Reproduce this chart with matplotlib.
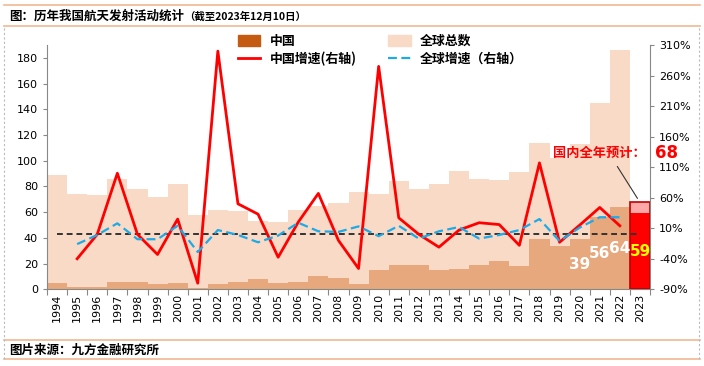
import matplotlib
matplotlib.use('Agg')
import matplotlib.pyplot as plt
import matplotlib.patches as mpatches
from matplotlib.lines import Line2D
import numpy as np

plt.rcParams['font.family'] = ['Noto Sans CJK SC', 'DejaVu Sans']

# ---- data ----
years = [str(y) for y in range(1994, 2024)]
global_total = [89, 74, 73, 86, 78, 72, 82, 58, 62, 61, 53, 52, 62, 65, 67,
                76, 74, 84, 78, 82, 92, 86, 85, 91, 114, 102, 113, 145, 186]
china_total = [5, 2, 2, 6, 6, 4, 5, 1, 4, 6, 8, 5, 6, 10, 9,
               4, 15, 19, 19, 15, 16, 19, 22, 18, 39, 34, 39, 56, 64]
china_2023 = 59
china_2023_est = 68
china_growth = [-40, 0, 100, 0, -33, 25, -80, 300, 50, 33, -37.5, 20, 67, -10,
                -56, 275, 27, 0, -21, 7, 19, 16, -18, 117, -13, 15, 44, 14]
global_growth = [-16, -1, 18, -8, -8, 14, -29, 7, -1, -13, -2, 19, 5, 4,
                 13, -3, 14, -7, 5, 12, -7, -1, 7, 25, -11, 11, 28, 28]
labeled_years = ['2020', '2021', '2022']
labeled_vals = [39, 56, 64]

W, H = 704, 366
fig = plt.figure(figsize=(W / 100, H / 100), dpi=100)
fig.patch.set_facecolor('white')

C_GLOBAL = '#F8DAC6'
C_CHINA = '#E6A87C'
C_CHINA_LEG = '#C55A11'
C_BORDER = '#F0B894'

ax = fig.add_axes([47 / W, 1 - 289.3 / H, (650 - 47) / W, (289.3 - 45) / H])
ax2 = ax.twinx()
ax.set_zorder(1)
ax2.set_zorder(2)
ax.patch.set_visible(False)

x = np.arange(len(years))
xg = x[:len(global_total)]
ax.bar(xg, global_total, width=1.0, color=C_GLOBAL, linewidth=0, zorder=1)
ax.bar(xg, china_total, width=1.0, color=C_CHINA, linewidth=0, zorder=2)

# 2023 bar: actual (red) + estimate (pink)
x23 = years.index('2023')
ax.bar(x23, china_2023_est, width=1.0, color='#FFA8A8', linewidth=0, zorder=3)
ax.bar(x23, china_2023, width=1.0, color='#FF0000', linewidth=0, zorder=4)
ax.bar(x23, china_2023_est, width=1.0, color='none', edgecolor='#C00000',
       linewidth=1.2, zorder=5)

ax.set_xlim(-0.5, len(years) - 0.5)
ax.set_ylim(0, 190)
ax.set_yticks(range(0, 181, 20))

# growth lines on the right axis
ax2.plot(x[1:1 + len(china_growth)], china_growth, color='#FF0000', lw=2, zorder=3)
ax2.plot(x[1:1 + len(global_growth)], global_growth, color='#1EAAE6', lw=1.6,
         dashes=(4, 2), zorder=3)
ax2.plot([0, x23], [0, 0], color='#333333', lw=1.4, dashes=(3, 2), zorder=2)
ax2.set_ylim(-90, 310)
ax2.set_yticks(range(-90, 311, 50))
ax2.set_yticklabels([f'{v}%' for v in range(-90, 311, 50)])

# value labels (drawn on the top axes so the lines stay underneath)
for yr, v in zip(labeled_years, labeled_vals):
    ax2.text(years.index(yr), -90 + v / 2 * 400 / 190, str(v), ha='center', va='center',
             color='white', fontsize=11, fontweight='bold', family='DejaVu Sans', zorder=6)
ax2.text(x23, -90 + china_2023 / 2 * 400 / 190, str(china_2023), ha='center', va='center',
         color='#FFFF00', fontsize=11, fontweight='bold', family='DejaVu Sans', zorder=6)

# annotation for 2023 estimate
ax2.annotate('', xy=(x23 - 0.05, 55), xytext=(x23 - 1.2, 115),
             arrowprops=dict(arrowstyle='-', color='#333333', lw=0.8), zorder=6)
ax2.text(x23 + 0.3, 133, '国内全年预计：', ha='right', va='center',
         color='#FF0000', fontsize=9.5, fontweight='bold', zorder=6)
ax2.text(x23 + 1.3, 133, str(china_2023_est), ha='center', va='center',
         color='#FF0000', fontsize=12, fontweight='bold', family='DejaVu Sans',
         zorder=6, clip_on=False)

# axis styling
for a in (ax, ax2):
    a.spines['top'].set_visible(False)
    for s in ('left', 'right', 'bottom'):
        a.spines[s].set_color('#888888')
        a.spines[s].set_linewidth(0.8)
ax.spines['right'].set_visible(False)
ax2.spines['left'].set_visible(False)
ax2.spines['bottom'].set_visible(False)

ax.set_xticks(np.arange(-0.5, len(years), 1.0))
ax.set_xticklabels([])
ax.set_xticks(x, minor=True)
ax.set_xticklabels(years, minor=True, rotation=90, fontsize=8, family='DejaVu Sans')
ax.tick_params(axis='x', which='major', length=4, color='#888888', direction='out')
ax.tick_params(axis='x', which='minor', length=0, pad=3)
ax.tick_params(axis='y', length=3, color='#888888', labelsize=8)
ax2.tick_params(axis='y', length=3, color='#888888', labelsize=8)
for lab in ax.get_yticklabels() + ax2.get_yticklabels():
    lab.set_family('DejaVu Sans')

# legend
handles = [mpatches.Patch(color=C_CHINA_LEG, label='中国'),
           Line2D([], [], color='#FF0000', lw=2, label='中国增速(右轴)'),
           mpatches.Patch(color=C_GLOBAL, label='全球总数'),
           Line2D([], [], color='#1EAAE6', lw=1.6, dashes=(4, 2), label='全球增速（右轴）')]
leg = fig.legend(handles=handles, ncol=2, loc='upper left',
                 bbox_to_anchor=(226 / W, 1 - 22 / H),
                 frameon=False, fontsize=9.3, handlelength=1.75, handleheight=0.9,
                 columnspacing=2.4, labelspacing=0.3, handletextpad=0.75)
for t in leg.get_texts():
    t.set_fontweight('bold')

# frame lines and titles
def hline(y, color=C_BORDER, lw=1.2, ls='-'):
    fig.add_artist(Line2D([4 / W, 700 / W], [1 - y / H, 1 - y / H], color=color,
                          lw=lw, ls=ls, transform=fig.transFigure))

hline(4.5)
hline(26)
hline(340)
hline(359)
for xv in (4, 699):
    fig.add_artist(Line2D([xv / W, xv / W], [1 - 359 / H, 1 - 26 / H], color='#BBBBBB',
                          lw=0.8, ls=(0, (2, 2)), transform=fig.transFigure))

fig.text(9 / W, 1 - 16 / H, '图：历年我国航天发射活动统计', ha='left', va='center',
         fontsize=9, fontweight='bold')
fig.text(184 / W, 1 - 16.5 / H, '（截至2023年12月10日）', ha='left', va='center',
         fontsize=7.5, fontweight='bold')
fig.text(9 / W, 1 - 350 / H, '图片来源：九方金融研究所', ha='left', va='center',
         fontsize=9, fontweight='bold')

fig.savefig('out.png', dpi=100, facecolor='white')
